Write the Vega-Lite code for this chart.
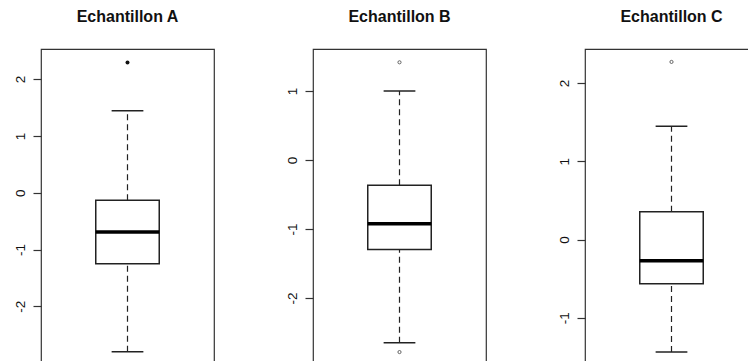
{
  "$schema": "https://vega.github.io/schema/vega-lite/v6.json",
  "padding": {"left": 12, "top": 8, "right": 0, "bottom": 0},
  "background": "white",
  "spacing": 69,
  "config": {
    "font": "Liberation Sans",
    "view": {"stroke": "#333", "strokeWidth": 1.2},
    "title": {"font": "Liberation Sans", "fontSize": 16, "fontWeight": "bold", "color": "#111", "anchor": "middle", "baseline": "alphabetic", "offset": 24},
    "axisY": {"domain": false, "grid": false, "tickSize": 8, "tickColor": "#333", "tickWidth": 1.2, "labelAngle": -90, "labelAlign": "center", "labelBaseline": "alphabetic", "labelPadding": 9, "labelFont": "Liberation Sans", "labelFontSize": 13.5, "labelColor": "#111", "title": null, "labelExpr": "toString(datum.value)"}
  },
  "datasets": {
    "stats": [
      {"sample": "A", "lower": -2.80, "q1": -1.249, "median": -0.691, "q3": -0.134, "upper": 1.442},
      {"sample": "B", "lower": -2.65, "q1": -1.297, "median": -0.926, "q3": -0.365, "upper": 1.0},
      {"sample": "C", "lower": -1.437, "q1": -0.565, "median": -0.272, "q3": 0.354, "upper": 1.447}
    ],
    "outliers": [
      {"sample": "A", "value": 2.294},
      {"sample": "B", "value": 1.417},
      {"sample": "B", "value": -2.786},
      {"sample": "C", "value": 2.27}
    ]
  },
  "hconcat": [
    {
      "title": "Echantillon A",
      "width": 173, "height": 313,
      "layer": [
        {"data": {"name": "stats"}, "transform": [{"filter": "datum.sample === 'A'"}],
         "mark": {"type": "rule", "strokeDash": [6, 4], "color": "#222", "strokeWidth": 1.2},
         "encoding": {"x": {"field": "sample", "type": "nominal", "scale": {"paddingOuter": 0.8625, "paddingInner": 0}, "axis": null},
                      "y": {"field": "q3", "type": "quantitative", "scale": {"domain": [-2.98, 2.53], "nice": false, "zero": false}, "axis": {"values": [-2, -1, 0, 1, 2]}},
                      "y2": {"field": "upper"}}},
        {"data": {"name": "stats"}, "transform": [{"filter": "datum.sample === 'A'"}],
         "mark": {"type": "rule", "strokeDash": [6, 4], "color": "#222", "strokeWidth": 1.2},
         "encoding": {"x": {"field": "sample", "type": "nominal"}, "y": {"field": "lower", "type": "quantitative"}, "y2": {"field": "q1"}}},
        {"data": {"name": "stats"}, "transform": [{"filter": "datum.sample === 'A'"}],
         "mark": {"type": "rule", "color": "#222", "strokeWidth": 1.4},
         "encoding": {"x": {"field": "sample", "type": "nominal", "bandPosition": 0.25}, "x2": {"field": "sample", "bandPosition": 0.75}, "y": {"field": "upper", "type": "quantitative"}}},
        {"data": {"name": "stats"}, "transform": [{"filter": "datum.sample === 'A'"}],
         "mark": {"type": "rule", "color": "#222", "strokeWidth": 1.4},
         "encoding": {"x": {"field": "sample", "type": "nominal", "bandPosition": 0.25}, "x2": {"field": "sample", "bandPosition": 0.75}, "y": {"field": "lower", "type": "quantitative"}}},
        {"data": {"name": "stats"}, "transform": [{"filter": "datum.sample === 'A'"}],
         "mark": {"type": "bar", "fill": "white", "stroke": "#222", "strokeWidth": 1.5},
         "encoding": {"x": {"field": "sample", "type": "nominal"}, "y": {"field": "q1", "type": "quantitative"}, "y2": {"field": "q3"}}},
        {"data": {"name": "stats"}, "transform": [{"filter": "datum.sample === 'A'"}],
         "mark": {"type": "rule", "color": "black", "strokeWidth": 3.5},
         "encoding": {"x": {"field": "sample", "type": "nominal", "bandPosition": 0}, "x2": {"field": "sample", "bandPosition": 1}, "y": {"field": "median", "type": "quantitative"}}},
        {"data": {"name": "outliers"}, "transform": [{"filter": "datum.sample === 'A'"}],
         "mark": {"type": "point", "filled": true, "color": "#111", "size": 16, "opacity": 1},
         "encoding": {"x": {"field": "sample", "type": "nominal"}, "y": {"field": "value", "type": "quantitative"}}}
      ]
    },
    {
      "title": "Echantillon B",
      "width": 173, "height": 313,
      "layer": [
        {"data": {"name": "stats"}, "transform": [{"filter": "datum.sample === 'B'"}],
         "mark": {"type": "rule", "strokeDash": [6, 4], "color": "#222", "strokeWidth": 1.2},
         "encoding": {"x": {"field": "sample", "type": "nominal", "scale": {"paddingOuter": 0.8625, "paddingInner": 0}, "axis": null},
                      "y": {"field": "q3", "type": "quantitative", "scale": {"domain": [-2.93, 1.61], "nice": false, "zero": false}, "axis": {"values": [-2, -1, 0, 1]}},
                      "y2": {"field": "upper"}}},
        {"data": {"name": "stats"}, "transform": [{"filter": "datum.sample === 'B'"}],
         "mark": {"type": "rule", "strokeDash": [6, 4], "color": "#222", "strokeWidth": 1.2},
         "encoding": {"x": {"field": "sample", "type": "nominal"}, "y": {"field": "lower", "type": "quantitative"}, "y2": {"field": "q1"}}},
        {"data": {"name": "stats"}, "transform": [{"filter": "datum.sample === 'B'"}],
         "mark": {"type": "rule", "color": "#222", "strokeWidth": 1.4},
         "encoding": {"x": {"field": "sample", "type": "nominal", "bandPosition": 0.25}, "x2": {"field": "sample", "bandPosition": 0.75}, "y": {"field": "upper", "type": "quantitative"}}},
        {"data": {"name": "stats"}, "transform": [{"filter": "datum.sample === 'B'"}],
         "mark": {"type": "rule", "color": "#222", "strokeWidth": 1.4},
         "encoding": {"x": {"field": "sample", "type": "nominal", "bandPosition": 0.25}, "x2": {"field": "sample", "bandPosition": 0.75}, "y": {"field": "lower", "type": "quantitative"}}},
        {"data": {"name": "stats"}, "transform": [{"filter": "datum.sample === 'B'"}],
         "mark": {"type": "bar", "fill": "white", "stroke": "#222", "strokeWidth": 1.5},
         "encoding": {"x": {"field": "sample", "type": "nominal"}, "y": {"field": "q1", "type": "quantitative"}, "y2": {"field": "q3"}}},
        {"data": {"name": "stats"}, "transform": [{"filter": "datum.sample === 'B'"}],
         "mark": {"type": "rule", "color": "black", "strokeWidth": 3.5},
         "encoding": {"x": {"field": "sample", "type": "nominal", "bandPosition": 0}, "x2": {"field": "sample", "bandPosition": 1}, "y": {"field": "median", "type": "quantitative"}}},
        {"data": {"name": "outliers"}, "transform": [{"filter": "datum.sample === 'B'"}],
         "mark": {"type": "point", "filled": false, "color": "#555", "size": 10, "strokeWidth": 0.9, "opacity": 1},
         "encoding": {"x": {"field": "sample", "type": "nominal"}, "y": {"field": "value", "type": "quantitative"}}}
      ]
    },
    {
      "title": "Echantillon C",
      "width": 173, "height": 313,
      "layer": [
        {"data": {"name": "stats"}, "transform": [{"filter": "datum.sample === 'C'"}],
         "mark": {"type": "rule", "strokeDash": [6, 4], "color": "#222", "strokeWidth": 1.2},
         "encoding": {"x": {"field": "sample", "type": "nominal", "scale": {"paddingOuter": 0.8625, "paddingInner": 0}, "axis": null},
                      "y": {"field": "q3", "type": "quantitative", "scale": {"domain": [-1.565, 2.435], "nice": false, "zero": false}, "axis": {"values": [-1, 0, 1, 2]}},
                      "y2": {"field": "upper"}}},
        {"data": {"name": "stats"}, "transform": [{"filter": "datum.sample === 'C'"}],
         "mark": {"type": "rule", "strokeDash": [6, 4], "color": "#222", "strokeWidth": 1.2},
         "encoding": {"x": {"field": "sample", "type": "nominal"}, "y": {"field": "lower", "type": "quantitative"}, "y2": {"field": "q1"}}},
        {"data": {"name": "stats"}, "transform": [{"filter": "datum.sample === 'C'"}],
         "mark": {"type": "rule", "color": "#222", "strokeWidth": 1.4},
         "encoding": {"x": {"field": "sample", "type": "nominal", "bandPosition": 0.25}, "x2": {"field": "sample", "bandPosition": 0.75}, "y": {"field": "upper", "type": "quantitative"}}},
        {"data": {"name": "stats"}, "transform": [{"filter": "datum.sample === 'C'"}],
         "mark": {"type": "rule", "color": "#222", "strokeWidth": 1.4},
         "encoding": {"x": {"field": "sample", "type": "nominal", "bandPosition": 0.25}, "x2": {"field": "sample", "bandPosition": 0.75}, "y": {"field": "lower", "type": "quantitative"}}},
        {"data": {"name": "stats"}, "transform": [{"filter": "datum.sample === 'C'"}],
         "mark": {"type": "bar", "fill": "white", "stroke": "#222", "strokeWidth": 1.5},
         "encoding": {"x": {"field": "sample", "type": "nominal"}, "y": {"field": "q1", "type": "quantitative"}, "y2": {"field": "q3"}}},
        {"data": {"name": "stats"}, "transform": [{"filter": "datum.sample === 'C'"}],
         "mark": {"type": "rule", "color": "black", "strokeWidth": 3.5},
         "encoding": {"x": {"field": "sample", "type": "nominal", "bandPosition": 0}, "x2": {"field": "sample", "bandPosition": 1}, "y": {"field": "median", "type": "quantitative"}}},
        {"data": {"name": "outliers"}, "transform": [{"filter": "datum.sample === 'C'"}],
         "mark": {"type": "point", "filled": false, "color": "#555", "size": 10, "strokeWidth": 0.9, "opacity": 1},
         "encoding": {"x": {"field": "sample", "type": "nominal"}, "y": {"field": "value", "type": "quantitative"}}}
      ]
    }
  ]
}
